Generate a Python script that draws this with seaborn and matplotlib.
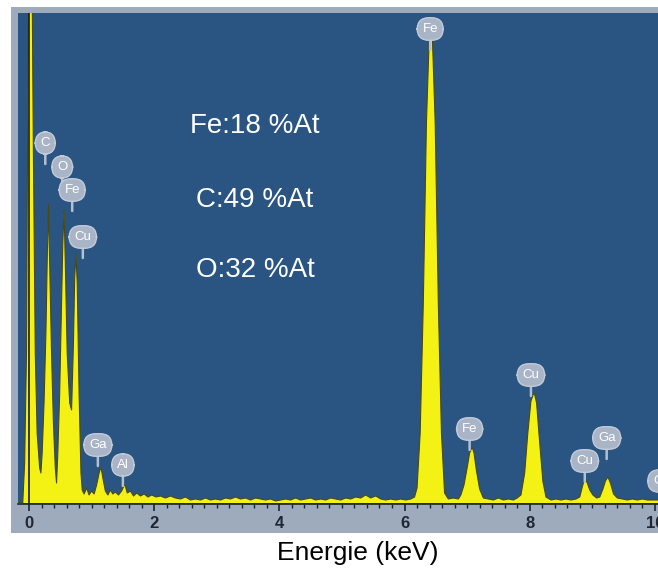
import matplotlib
matplotlib.use("Agg")
import matplotlib.pyplot as plt
from matplotlib.patches import Rectangle
from matplotlib.ticker import MultipleLocator
import seaborn as sns

# spectre EDS (energie en keV, coups en unités arbitraires)
energie_kev = [
    -0.18, -0.10, -0.07, -0.04, -0.02, 0.00, 0.04, 0.07, 0.10, 0.13, 0.17, 0.19,
    0.21, 0.24, 0.27, 0.29, 0.31, 0.33, 0.36, 0.39, 0.42, 0.44,
    0.46, 0.49, 0.52, 0.54, 0.56, 0.58, 0.61, 0.65, 0.68,
    0.71, 0.73, 0.75, 0.77, 0.80, 0.83, 0.85,
    0.88, 0.92, 0.96, 1.00, 1.04, 1.08, 1.12, 1.15, 1.18, 1.22, 1.26, 1.30,
    1.34, 1.38, 1.43, 1.48, 1.53, 1.57, 1.62, 1.67, 1.72, 1.78, 1.84, 1.90,
    1.96, 2.03, 2.10, 2.18, 2.26, 2.34, 2.42, 2.50, 2.58, 2.66, 2.74, 2.82,
    2.90, 2.98, 3.06, 3.14, 3.22, 3.30, 3.38, 3.46, 3.54, 3.62, 3.70, 3.78,
    3.86, 3.94, 4.02, 4.10, 4.18, 4.26, 4.34, 4.42, 4.50, 4.58, 4.66, 4.74,
    4.82, 4.90, 4.98, 5.06, 5.14, 5.22, 5.30, 5.38, 5.46, 5.54, 5.62, 5.70,
    5.78, 5.86, 5.94, 6.02, 6.10, 6.16,
    6.20, 6.25, 6.30, 6.35, 6.40, 6.44, 6.49, 6.54, 6.59, 6.64, 6.70, 6.78, 6.86,
    6.90, 6.95, 7.00, 7.04, 7.08, 7.11, 7.15, 7.20, 7.26, 7.34, 7.42, 7.50,
    7.58, 7.66, 7.74, 7.80,
    7.86, 7.92, 7.97, 8.02, 8.07, 8.11, 8.16, 8.21, 8.26, 8.34, 8.42, 8.50,
    8.58, 8.66, 8.74, 8.80,
    8.84, 8.88, 8.92, 8.96, 9.01, 9.07, 9.12,
    9.17, 9.21, 9.25, 9.29, 9.34, 9.40, 9.48, 9.56, 9.64, 9.72, 9.80, 9.88,
    9.96, 10.05,
]
coups = [
    0, 0, 40, 150, 400, 600, 600, 350, 150, 70, 35, 30,
    50, 100, 170, 240, 298, 240, 150, 80, 35, 20,
    50, 110, 200, 260, 293, 240, 150, 100, 93,
    160, 225, 249, 220, 110, 30, 13,
    9, 15, 8, 12, 9, 18, 30, 36, 25, 12, 8, 13,
    9, 11, 8, 12, 19, 10, 12, 7, 10, 7, 9, 6,
    8, 6, 7, 5, 7, 5, 4, 6, 3, 4, 3, 5,
    3, 4, 3, 5, 4, 6, 4, 5, 3, 5, 4, 3,
    4, 2, 3, 4, 3, 5, 3, 4, 5, 3, 4, 3,
    5, 4, 3, 5, 4, 6, 5, 8, 5, 7, 4, 3,
    4, 3, 4, 3, 4, 6,
    15, 70, 200, 380, 475, 475, 380, 200, 70, 10, 4, 5, 4,
    8, 18, 35, 50, 56, 50, 32, 14, 5, 4, 3, 5,
    3, 4, 3, 5,
    8, 30, 70, 102, 111, 100, 60, 22, 6, 3, 4, 3,
    4, 3, 4, 6,
    16, 25, 20, 13, 8, 5, 6,
    14, 22, 26, 20, 9, 5, 4, 3, 4, 3, 4, 3,
    3, 3,
]

# étiquettes des raies (bulles)
raies = ["C", "O", "Fe", "Cu", "Ga", "Al", "Fe", "Fe", "Cu", "Cu", "Ga", "Ga"]
raies_x = [0.26, 0.53, 0.69, 0.86, 1.10, 1.50, 6.41, 7.04, 8.02, 8.88, 9.23, 10.11]
raies_y = [360, 336, 313, 266, 58, 38, 474, 74, 128, 42, 65, 22]

composition = ["Fe:18 %At", "C:49 %At", "O:32 %At"]
composition_y = [377, 303, 233]

ticks_kev = [0, 2, 4, 6, 8, 10]

sns.set_theme(style="dark")
plt.rcParams['font.family'] = ['Liberation Sans', 'DejaVu Sans']

fig = plt.figure(figsize=(6.58, 5.71), dpi=100)
fig.patch.set_facecolor("white")

# cadre gris du logiciel
fig.patches.append(Rectangle((11 / 658, 1 - 533 / 571), 647 / 658, 526 / 571,
                             transform=fig.transFigure, facecolor="#9eabbd",
                             edgecolor="none", zorder=-5))

ax = fig.add_axes([18 / 658, 1 - 504 / 571, 640 / 658, 491 / 571])
ax.set_zorder(2)
ax.set_facecolor("#2a5582")

ax.fill_between(energie_kev, coups, 0, color="#f4f214", linewidth=0, zorder=2)
sns.lineplot(x=energie_kev, y=coups, ax=ax, color="#4a4a10", linewidth=0.8,
             sort=False, estimator=None, zorder=3)
ax.axvline(0, color="#1a1a1a", linewidth=1.2, zorder=4)

for nom, x, y in zip(raies, raies_x, raies_y):
    ax.annotate(nom, xy=(x, y - 21), xytext=(x, y), ha="center", va="center",
                fontsize=9.5, color="white", zorder=6, annotation_clip=False,
                bbox=dict(boxstyle="round,pad=0.4,rounding_size=0.9",
                          facecolor="#a9b4c6", edgecolor="#c3cbd8", linewidth=1),
                arrowprops=dict(arrowstyle="-", color="#b4bfcf", linewidth=1.8,
                                shrinkA=0, shrinkB=0),
                clip_on=True)

for txt, y in zip(composition, composition_y):
    ax.text(3.61, y, txt, ha="center", va="center", fontsize=20, color="white",
            zorder=6)

ax.set_xlim(-0.176, 10.05)
ax.set_ylim(-1, 490)
ax.set_yticks([])
ax.xaxis.set_major_locator(MultipleLocator(2))
ax.xaxis.set_minor_locator(MultipleLocator(0.2))
ax.set_xticks(ticks_kev)
ax.set_xticklabels([str(t) for t in ticks_kev])
ax.tick_params(axis="x", which="major", direction="out", length=5, width=1.2,
               color="#1c2430", pad=4, labelsize=12, labelcolor="#1f2735",
               bottom=True)
ax.tick_params(axis="x", which="minor", direction="out", length=3, width=1,
               color="#1c2430", bottom=True)
for lab in ax.get_xticklabels():
    lab.set_fontweight("bold")
for side in ["top", "left", "right"]:
    ax.spines[side].set_visible(False)
ax.spines["bottom"].set_visible(True)
ax.spines["bottom"].set_color("#1c2430")
ax.spines["bottom"].set_linewidth(1.2)
ax.set_xlabel("")
ax.set_ylabel("")

fig.text(358 / 658, 1 - 553 / 571, "Energie (keV)", ha="center", va="center",
         fontsize=19, color="black")

fig.savefig("out.png", dpi=100, facecolor="white")
plt.close()
